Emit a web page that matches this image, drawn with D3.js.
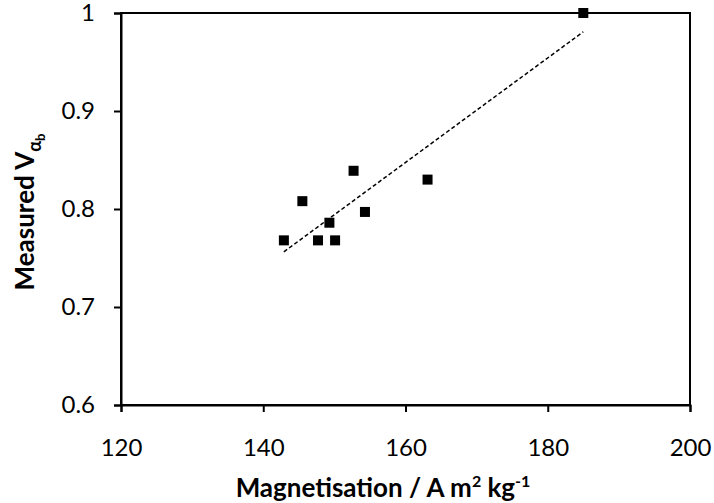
<!DOCTYPE html>
<html lang="en">
<head>
    <meta charset="UTF-8">
    <title>Measured V vs magnetisation</title>
    <style>
        body {
            margin: 0;
            background-color: #fff;
        }

        #chart text {
            font-family: "Lato", "Open Sans", sans-serif;
            fill: #000;
        }

        .tickLabel {
            font-size: 24px;
        }

        .axisTitle {
            font-size: 26px;
            font-weight: bold;
        }
    </style>
</head>
<body>
<svg id="chart"></svg>
<script src="https://d3js.org/d3.v7.min.js"></script>
<script>
    // values
    const magnetisation = [142.9, 145.5, 147.7, 149.3, 150.1, 152.7, 154.3, 163.1, 185.0];
    const measured = [0.768, 0.808, 0.768, 0.786, 0.768, 0.839, 0.797, 0.830, 1.000];
    const xTicks = [120, 140, 160, 180, 200];
    const yTicks = [0.6, 0.7, 0.8, 0.9, 1];

    let margin = {left: 121, right: 24, top: 13, bottom: 98};
    let width = 714 - margin.left - margin.right;
    let height = 503 - margin.top - margin.bottom;

    let data = magnetisation.map((m, i) => ({x: m, y: measured[i]}));

    let xScale = d3.scaleLinear().domain([120, 200]).range([0, width]);
    let yScale = d3.scaleLinear().domain([0.6, 1]).range([height, 0]);

    const svg = d3.select("svg#chart")
        .attr("width", 714)
        .attr("height", 503);

    const g = svg.append("g")
        .attr("transform", `translate(${margin.left}, ${margin.top})`);

    // plot frame
    g.append("rect")
        .attr("x", 0)
        .attr("y", 0)
        .attr("width", width)
        .attr("height", height)
        .attr("fill", "none")
        .attr("stroke", "#000")
        .attr("stroke-width", 2);

    let xAxis = g.append("g")
        .attr("transform", `translate(0, ${height})`)
        .call(d3.axisBottom(xScale).tickValues(xTicks).tickSize(7).tickPadding(27).tickFormat(d3.format("d")));

    let yAxis = g.append("g")
        .call(d3.axisLeft(yScale).tickValues(yTicks).tickSize(7).tickPadding(19).tickFormat(d => d === 1 ? "1" : d3.format(".1f")(d)));

    [xAxis, yAxis].forEach(ax => {
        ax.attr("font-size", null).attr("font-family", null);
        ax.select(".domain").attr("stroke", "#000").attr("stroke-width", 2);
        ax.selectAll(".tick line").attr("stroke", "#000").attr("stroke-width", 2);
        ax.selectAll(".tick text").attr("class", "tickLabel");
    });

    // least squares trend line
    let mx = d3.mean(magnetisation), my = d3.mean(measured);
    let sxy = d3.sum(data, d => (d.x - mx) * (d.y - my));
    let sxx = d3.sum(data, d => (d.x - mx) * (d.x - mx));
    let slope = sxy / sxx;
    let [x0, x1] = d3.extent(magnetisation);
    let trend = [x0, x1].map(x => ({x: x, y: my + slope * (x - mx)}));

    g.append("path")
        .datum(trend)
        .attr("d", d3.line().x(d => xScale(d.x)).y(d => yScale(d.y)))
        .attr("fill", "none")
        .attr("stroke", "#000")
        .attr("stroke-width", 1.5)
        .attr("stroke-dasharray", "4,2.5");

    let size = 10;
    g.selectAll("rect.point")
        .data(data)
        .join("rect")
        .attr("class", "point")
        .attr("x", d => xScale(d.x) - size / 2)
        .attr("y", d => yScale(d.y) - size / 2)
        .attr("width", size)
        .attr("height", size)
        .attr("fill", "#000");

    // axis titles
    svg.append("text")
        .attr("class", "axisTitle")
        .attr("x", 383)
        .attr("y", 497)
        .attr("text-anchor", "middle")
        .html('Magnetisation / A m<tspan font-size="16" dy="-10">2</tspan><tspan dy="10"> kg</tspan><tspan font-size="16" dy="-10">-1</tspan>');

    svg.append("text")
        .attr("class", "axisTitle")
        .attr("transform", "translate(34, 212) rotate(-90)")
        .attr("text-anchor", "middle")
        .html('Measured V<tspan font-size="18" dy="7">α</tspan><tspan font-size="13" dy="4">b</tspan>');
</script>
</body>
</html>
